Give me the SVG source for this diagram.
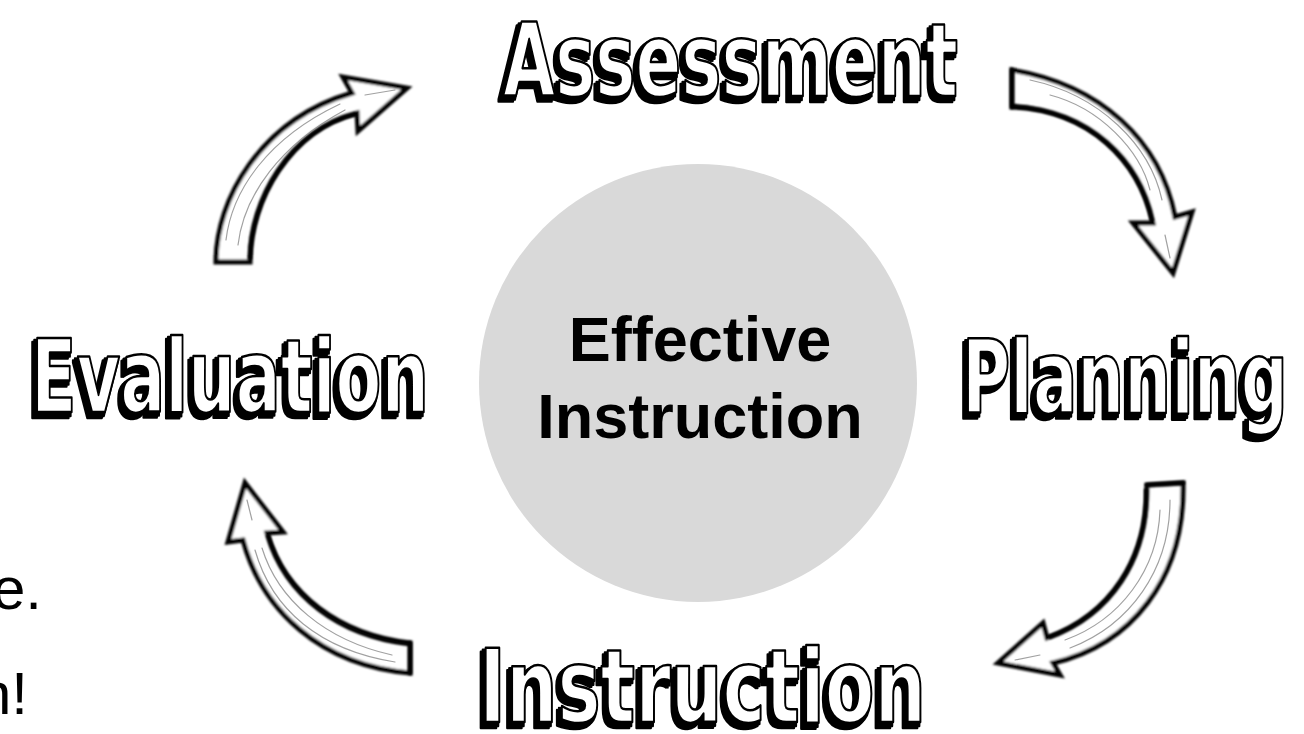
<svg xmlns="http://www.w3.org/2000/svg" width="1304" height="734" viewBox="0 0 1304 734">
  <defs>
    <filter id="rough" x="-10%" y="-10%" width="120%" height="120%">
      <feGaussianBlur stdDeviation="0.8"/>
    </filter>
    <!-- extruded block-letter look: solid black offset behind the outlined face -->
    <filter id="depth" x="-5%" y="-10%" width="110%" height="130%">
      <feMorphology in="SourceAlpha" operator="dilate" radius="1.2" result="fat"/>
      <feOffset in="fat" dx="-2" dy="2.5" result="d1"/>
      <feOffset in="fat" dx="-4" dy="5" result="d2"/>
      <feMerge result="ext">
        <feMergeNode in="d1"/>
        <feMergeNode in="d2"/>
      </feMerge>
      <feFlood flood-color="#000"/>
      <feComposite operator="in" in2="ext" result="shade"/>
      <feMerge>
        <feMergeNode in="shade"/>
        <feMergeNode in="SourceGraphic"/>
      </feMerge>
    </filter>
    <style>
      .hub { fill: #d9d9d9; }
      .hub-text { font-family: "Liberation Sans", Arial, sans-serif; font-weight: bold; font-size: 63px; fill: #000; text-anchor: middle; }
      .label { font-family: "DejaVu Sans Condensed", "DejaVu Sans", sans-serif; font-weight: bold; font-size: 102px;
               fill: #fff; stroke: #000; stroke-width: 2.5; stroke-linejoin: round; filter: url(#depth); }
      .arrow { fill: #fff; stroke: #000; stroke-width: 5; stroke-linejoin: miter; filter: url(#rough); }
      .arrow-edge { fill: none; stroke: #000; stroke-width: 4; stroke-linecap: round; filter: url(#rough); }
      .sketch { fill: none; stroke: #8a8a8a; stroke-width: 1.2; stroke-linecap: round; opacity: 0.8; }
      .note { font-family: "Liberation Sans", Arial, sans-serif; font-size: 60px; fill: #000; }
    </style>
  </defs>

  <rect width="1304" height="734" fill="#fff"/>

  <!-- partial notes at the left edge -->
  <text class="note" x="-8" y="609">e.</text>
  <text class="note" x="-22" y="714">n!</text>

  <!-- centre hub -->
  <g id="hub">
    <circle class="hub" cx="698" cy="383" r="219"/>
    <text class="hub-text" x="700" y="361">Effective</text>
    <text class="hub-text" x="700" y="438">Instruction</text>
  </g>

  <!-- cycle stages -->
  <g id="assessment">
    <text class="label" x="503" y="96" textLength="455" lengthAdjust="spacingAndGlyphs">Assessment</text>
  </g>
  <g id="planning">
    <text class="label" x="962" y="413" textLength="326" lengthAdjust="spacingAndGlyphs">Planning</text>
  </g>
  <g id="instruction">
    <text class="label" x="479" y="722" textLength="447" lengthAdjust="spacingAndGlyphs">Instruction</text>
  </g>
  <g id="evaluation">
    <text class="label" x="31" y="412" textLength="398" lengthAdjust="spacingAndGlyphs">Evaluation</text>
  </g>

  <!-- curved hand-drawn arrows between stages -->
  <g id="connectors">
    <!-- Evaluation to Assessment -->
    <g id="arrow-eval-assess">
      <path class="arrow" d="M216,262 C216,200 260,120 352,93 L343,77 L407,88 L358,131 L357,113 C290,130 250,200 250,262 Z"/>
      <path class="arrow-edge" d="M250,258 C250,200 290,130 355,114"/>
      <path class="sketch" d="M226,240 C232,190 268,138 340,104 M238,245 C244,195 280,145 345,110 M365,95 L395,90"/>
    </g>
    <!-- Assessment to Planning -->
    <g id="arrow-assess-plan">
      <path class="arrow" d="M1012,70 C1100,85 1160,140 1175,217 L1192,212 L1173,273 L1133,223 L1153,223 C1140,160 1090,110 1012,107 Z"/>
      <path class="arrow-edge" d="M1014,106 C1090,112 1138,160 1152,220 M1012,70 L1012,107"/>
      <path class="sketch" d="M1030,80 C1100,95 1150,145 1162,200 M1050,95 C1100,108 1140,150 1150,190 M1165,235 L1170,258"/>
    </g>
    <!-- Planning to Instruction -->
    <g id="arrow-plan-instr">
      <path class="arrow" d="M1183,483 C1185,580 1130,645 1053,663 L1060,675 L998,663 L1043,623 L1047,638 C1110,615 1148,560 1147,485 Z"/>
      <path class="arrow-edge" d="M1146,490 C1148,560 1110,615 1050,637 M1147,485 L1183,483"/>
      <path class="sketch" d="M1170,500 C1170,570 1130,625 1070,648 M1160,510 C1158,570 1120,620 1065,640 M1015,660 L1040,655"/>
    </g>
    <!-- Instruction to Evaluation -->
    <g id="arrow-instr-eval">
      <path class="arrow" d="M410,673 C320,665 262,610 243,540 L228,542 L245,483 L283,532 L267,533 C285,595 340,635 410,643 Z"/>
      <path class="arrow-edge" d="M268,536 C286,597 340,636 408,644 M410,643 L410,673"/>
      <path class="sketch" d="M255,550 C272,610 320,650 395,662 M262,548 C278,600 325,640 392,655 M247,500 L252,520"/>
    </g>
  </g>
</svg>
